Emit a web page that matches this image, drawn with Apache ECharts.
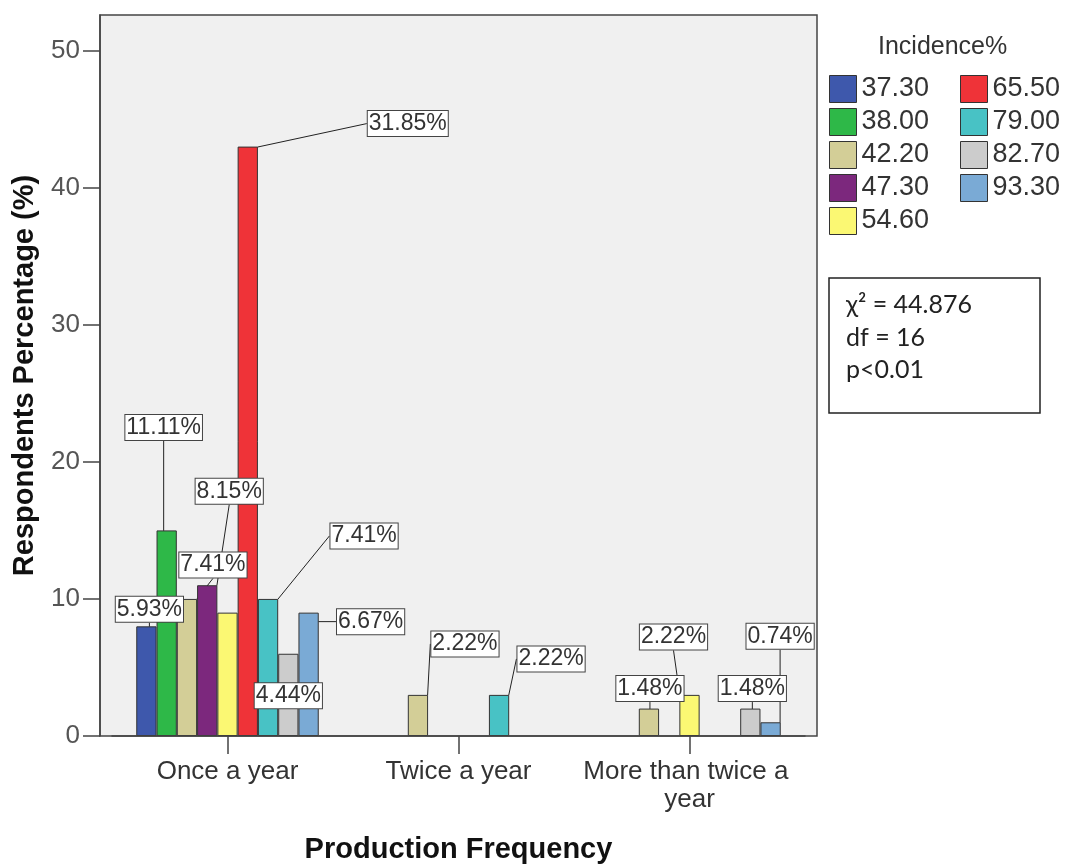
<!DOCTYPE html>
<html><head><meta charset="utf-8">
<script src="https://cdn.jsdelivr.net/npm/echarts@6/dist/echarts.min.js"></script>
<style>html,body{margin:0;padding:0;background:#fff}#chart{width:1066px;height:868px}</style>
</head><body><div id="chart"></div>
<script>
// ---- data ----
const categories = ['Once a year', 'Twice a year', 'More than twice a year'];
const seriesNames = ['37.30', '38.00', '42.20', '47.30', '54.60', '65.50', '79.00', '82.70', '93.30'];
const v37_30 = [8, null, null];
const v38_00 = [15, null, null];
const v42_20 = [10, 3, 2];
const v47_30 = [11, null, null];
const v54_60 = [9, null, 3];
const v65_50 = [43, null, null];
const v79_00 = [10, 3, null];
const v82_70 = [6, null, 2];
const v93_30 = [9, null, 1];
const l37_30 = ['5.93%', null, null];
const l38_00 = ['11.11%', null, null];
const l42_20 = ['7.41%', '2.22%', '1.48%'];
const l47_30 = ['8.15%', null, null];
const l54_60 = [null, null, '2.22%'];
const l65_50 = ['31.85%', null, null];
const l79_00 = ['7.41%', '2.22%', null];
const l82_70 = ['4.44%', null, '1.48%'];
const l93_30 = ['6.67%', null, '0.74%'];
const yTicks = [0, 10, 20, 30, 40, 50];
const statLines = ['\u03c7\u00b2 = 44.876', 'df = 16', 'p<0.01'];

// ---- styling ----
const values = [v37_30, v38_00, v42_20, v47_30, v54_60, v65_50, v79_00, v82_70, v93_30];
const labels = [l37_30, l38_00, l42_20, l47_30, l54_60, l65_50, l79_00, l82_70, l93_30];
const colors = ['#3E58AC', '#2EB848', '#D3CE97', '#7C287D', '#FBF873', '#EF3338', '#48C2C5', '#CCCCCC', '#7AAAD5'];
// callout offsets (px) of each label from its bar's top centre
const labelOffsets = [
  [[3, -17], null, null],
  [[-3, -103], null, null],
  [[26, -34], [47, -51], [1, -20]],
  [[22, -94], null, null],
  [null, null, [-16, -58]],
  [[160, -23], null, null],
  [[96, -63], [52, -36], null],
  [[0, 42], null, [2, -20]],
  [[62, 9], null, [9.5, -86]]
];
const FONT = 'Liberation Sans, Arial, sans-serif';

const series = seriesNames.map((name, s) => ({
  name: name,
  type: 'bar',
  barGap: '0%',
  barCategoryGap: '21%',
  itemStyle: { color: colors[s], borderColor: '#333', borderWidth: 1 },
  data: values[s].map((v, i) => ({
    value: v,
    label: { show: labels[s][i] != null, formatter: labels[s][i] || '' }
  })),
  label: {
    position: ['50%', 0],
    align: 'center',
    verticalAlign: 'middle',
    fontFamily: FONT,
    fontSize: 23,
    color: '#333',
    backgroundColor: '#fff',
    borderColor: '#444',
    borderWidth: 1,
    padding: [2, 1, 0, 1]
  },
  labelLine: { show: true, lineStyle: { color: '#222', width: 1 } },
  labelLayout: function (p) {
    const o = labelOffsets[p.seriesIndex][p.dataIndex];
    return o ? { dx: o[0], dy: o[1] } : {};
  },
  emphasis: { disabled: true },
  animation: false
}));

const chart = echarts.init(document.getElementById('chart'), null, { renderer: 'canvas' });
chart.setOption({
  backgroundColor: '#fff',
  animation: false,
  title: {
    text: 'Incidence%', left: 873, top: 30,
    textStyle: { fontFamily: FONT, fontSize: 25, fontWeight: 'normal', color: '#333' }
  },
  legend: [
    {
      data: seriesNames.slice(0, 5), orient: 'vertical', left: 829, top: 75, padding: 0,
      itemWidth: 27, itemHeight: 27, itemGap: 5, icon: 'rect', selectedMode: false,
      itemStyle: { borderColor: '#333', borderWidth: 1 },
      textStyle: { fontFamily: FONT, fontSize: 27, color: '#333' }
    },
    {
      data: seriesNames.slice(5), orient: 'vertical', left: 960, top: 75, padding: 0,
      itemWidth: 27, itemHeight: 27, itemGap: 5, icon: 'rect', selectedMode: false,
      itemStyle: { borderColor: '#333', borderWidth: 1 },
      textStyle: { fontFamily: FONT, fontSize: 27, color: '#333' }
    }
  ],
  grid: { left: 112, right: 261, top: 15, bottom: 132, outerBoundsMode: 'none' },
  xAxis: {
    type: 'category',
    data: categories,
    axisLine: { show: true, lineStyle: { color: '#444', width: 1.5 } },
    axisTick: { show: true, alignWithLabel: true, length: 18, lineStyle: { color: '#444', width: 1.5 } },
    axisLabel: {
      fontFamily: FONT, fontSize: 26, color: '#333', margin: 22,
      width: 232, overflow: 'break', lineHeight: 28, interval: 0
    },
    name: 'Production Frequency',
    nameLocation: 'middle',
    nameGap: 99,
    nameTextStyle: { fontFamily: FONT, fontSize: 29, fontWeight: 'bold', color: '#111' }
  },
  yAxis: {
    type: 'value',
    min: 0, max: 52.6, interval: 10,
    offset: 12,
    splitLine: { show: false },
    axisLine: { show: true, lineStyle: { color: '#444', width: 1.5 } },
    axisTick: { show: true, length: 17, customValues: yTicks, lineStyle: { color: '#444', width: 1.5 } },
    axisLabel: { customValues: yTicks, fontFamily: FONT, fontSize: 26, color: '#555', margin: 20 },
    name: 'Respondents Percentage (%)',
    nameLocation: 'middle',
    nameGap: 61,
    nameTextStyle: { fontFamily: FONT, fontSize: 29, fontWeight: 'bold', color: '#111' }
  },
  graphic: [
    { type: 'rect', z: -10, silent: true, shape: { x: 100, y: 15, width: 717, height: 721 },
      style: { fill: '#f0f0f0', stroke: null } },
    { type: 'rect', z: 100, silent: true, shape: { x: 100, y: 15, width: 717, height: 721 },
      style: { fill: null, stroke: '#444', lineWidth: 1.5 } },
    { type: 'rect', z: 100, silent: true, shape: { x: 829, y: 278, width: 211, height: 135 },
      style: { fill: '#fff', stroke: '#222', lineWidth: 1.5 } },
    { type: 'text', z: 101, silent: true, x: 846, y: 289,
      style: { text: statLines.join('\n'), font: '25px Lato, "Open Sans", sans-serif', fill: '#222', lineHeight: 32.5 } }
  ],
  series: series
});
</script>
</body></html>
